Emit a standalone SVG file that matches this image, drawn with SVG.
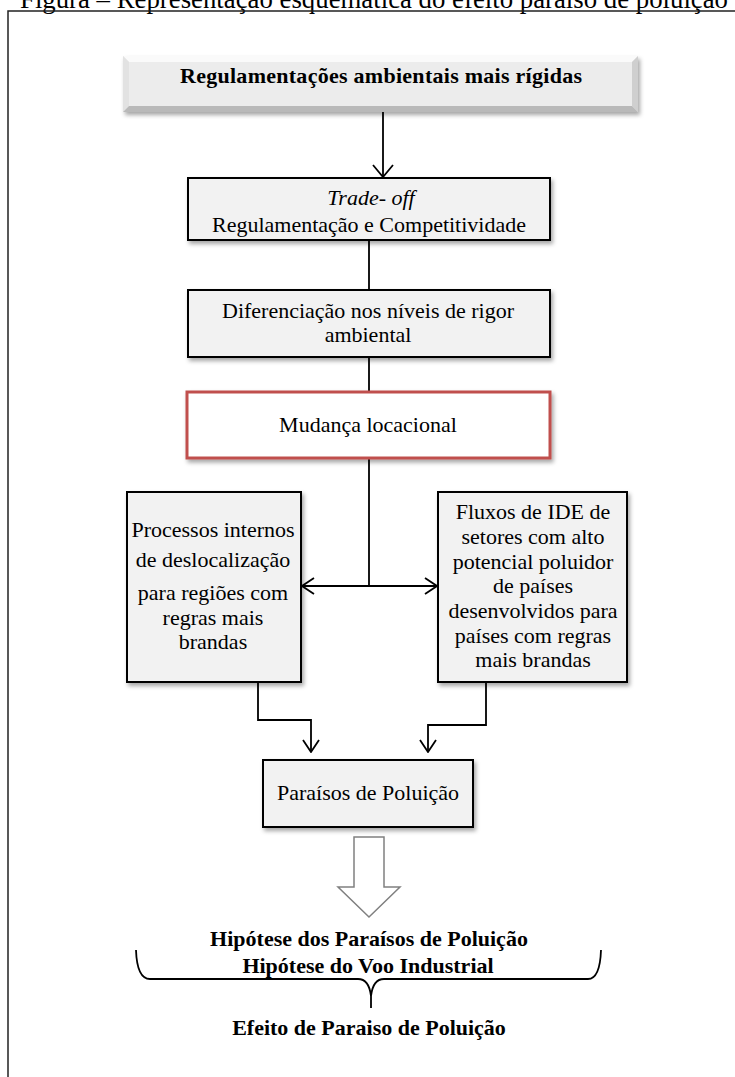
<svg xmlns="http://www.w3.org/2000/svg" width="735" height="1077" viewBox="0 0 735 1077">
<defs>
<style>
.t{font-family:"Liberation Serif","Times New Roman",serif;font-size:22px;fill:#000;text-anchor:middle}
.b{font-weight:bold}
.i{font-style:italic}
.box{fill:#f2f2f2;stroke:#000;stroke-width:2}
.red{fill:#ffffff;stroke:#c0504d;stroke-width:3}
.ln{fill:none;stroke:#000;stroke-width:1.8}
</style>
<filter id="sh" x="-10%" y="-20%" width="130%" height="150%">
<feDropShadow dx="2" dy="3" stdDeviation="2" flood-color="#000" flood-opacity="0.35"/>
</filter>
<marker id="ah" viewBox="0 0 14 18" refX="13" refY="9" markerWidth="14" markerHeight="18" orient="auto" markerUnits="userSpaceOnUse">
<path d="M1,1 L13,9 L1,17" fill="none" stroke="#000" stroke-width="1.8"/>
</marker>
<marker id="ahw" viewBox="0 0 14 22" refX="13" refY="11" markerWidth="14" markerHeight="22" orient="auto" markerUnits="userSpaceOnUse">
<path d="M1,1 L13,11 L1,21" fill="none" stroke="#000" stroke-width="1.8"/>
</marker>
</defs>
<rect width="735" height="1077" fill="#fff"/>
<text x="20" y="7.5" class="t" style="text-anchor:start;font-size:26.5px" textLength="708" lengthAdjust="spacingAndGlyphs">Figura – Representação esquemática do efeito paraíso de poluição</text>
<rect x="8" y="11" width="800" height="1100" fill="none" stroke="#222" stroke-width="1.5"/>

<g id="connectors">
<path class="ln" d="M383,112 L383,177" marker-end="url(#ahw)"/>
<path class="ln" d="M369,240 L369,290"/>
<path class="ln" d="M369,357 L369,392"/>
<path class="ln" d="M369,458 L369,586"/>
<path class="ln" d="M369,586 L302,586" marker-end="url(#ah)"/>
<path class="ln" d="M369,586 L437,586" marker-end="url(#ah)"/>
<path class="ln" d="M258,682 L258,720 L311,720 L311,752" marker-end="url(#ah)"/>
<path class="ln" d="M486,682 L486,725 L428,725 L428,752" marker-end="url(#ah)"/>
</g>

<g id="n1">
<g filter="url(#sh)">
<rect x="123" y="56" width="515" height="56" fill="#ececec"/>
</g>
<polygon points="123,56 638,56 632,62 129,62" fill="#fafafa"/>
<polygon points="123,56 129,62 129,106 123,112" fill="#e2e2e2"/>
<polygon points="638,56 638,112 632,106 632,62" fill="#cfcfcf"/>
<polygon points="123,112 129,106 632,106 638,112" fill="#b9b9b9"/>
<text x="381" y="83" class="t b" textLength="402" lengthAdjust="spacing">Regulamentações ambientais mais rígidas</text>
</g>

<g id="n2">
<rect x="188" y="178" width="362" height="62" class="box" filter="url(#sh)"/>
<text x="371" y="205" class="t i">Trade- off</text>
<text x="369" y="232" class="t">Regulamentação e Competitividade</text>
</g>

<g id="n3">
<rect x="188" y="290" width="362" height="67" class="box" filter="url(#sh)"/>
<text x="368" y="318" class="t">Diferenciação nos níveis de rigor</text>
<text x="368" y="342" class="t">ambiental</text>
</g>

<g id="n4">
<rect x="187" y="392" width="363" height="66" class="red" filter="url(#sh)"/>
<text x="368" y="432" class="t">Mudança locacional</text>
</g>

<g id="n5">
<rect x="127" y="492" width="174" height="190" class="box" filter="url(#sh)"/>
<text x="213" y="537" class="t">Processos internos</text>
<text x="213" y="567" class="t">de deslocalização</text>
<text x="213" y="600" class="t">para regiões com</text>
<text x="213" y="625" class="t">regras mais</text>
<text x="213" y="649" class="t">brandas</text>
</g>

<g id="n6">
<rect x="438" y="492" width="189" height="190" class="box" filter="url(#sh)"/>
<text x="533" y="519" class="t">Fluxos de IDE de</text>
<text x="533" y="544" class="t">setores com alto</text>
<text x="533" y="569" class="t">potencial poluidor</text>
<text x="533" y="593" class="t">de países</text>
<text x="533" y="618" class="t">desenvolvidos para</text>
<text x="533" y="643" class="t">países com regras</text>
<text x="533" y="667" class="t">mais brandas</text>
</g>

<g id="n7">
<rect x="263" y="760" width="210" height="67" class="box" filter="url(#sh)"/>
<text x="368" y="800" class="t">Paraísos de Poluição</text>
</g>

<g id="n8">
<polygon points="354,837 384,837 384,887 400,887 369,917 338,887 354,887" fill="#fff" stroke="#808080" stroke-width="1.5"/>
</g>

<g id="n9">
<text x="369" y="946" class="t b">Hipótese dos Paraísos de Poluição</text>
<text x="368" y="973" class="t b">Hipótese do Voo Industrial</text>
<path class="ln" stroke-width="1.6" d="M136,950 Q137,979 150,979 L358,979 Q369,979 371,996 L371,1008 M371,996 Q373,979 384,979 L588,979 Q600,979 601,950"/>
<text x="369" y="1035" class="t b">Efeito de Paraiso de Poluição</text>
</g>
</svg>
